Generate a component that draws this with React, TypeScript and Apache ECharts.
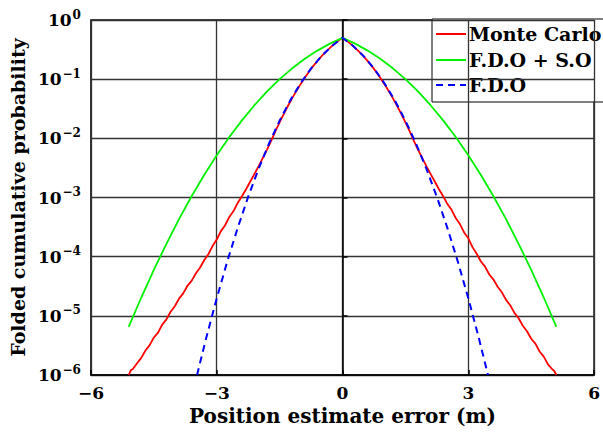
import React, { useEffect, useRef } from "react";
import * as echarts from "echarts";

// Monte Carlo: offsets |x| and probabilities on each side
const mcOffsets = [
  0, 0.1, 0.2, 0.3, 0.4, 0.5, 0.6, 0.7, 0.8, 0.9, 1.0, 1.1, 1.2, 1.3, 1.4, 1.5, 1.6, 1.7, 1.8, 1.9,
  2.0, 2.1, 2.2, 2.3, 2.4, 2.5, 2.6, 2.7, 2.8, 2.9, 3.0, 3.1, 3.2, 3.3, 3.4, 3.5, 3.6, 3.7, 3.8, 3.9,
  4.0, 4.1, 4.2, 4.3, 4.4, 4.5, 4.6, 4.7, 4.8, 4.9, 5.0, 5.05, 5.1,
];
const mcRight = [
  0.5, 0.445, 0.391, 0.338, 0.289, 0.244, 0.202, 0.166, 0.133, 0.106,
  0.0824, 0.0633, 0.0478, 0.0355, 0.0259, 0.0186, 0.0132, 0.00912, 0.00646, 0.00468,
  0.00339, 0.00251, 0.00186, 0.00138, 0.00105,
  7.8e-4, 6.2e-4, 4.5e-4, 3.55e-4, 2.57e-4, 2.04e-4, 1.45e-4, 1.12e-4, 8.3e-5, 6.8e-5,
  5.0e-5, 4.1e-5, 3.1e-5, 2.5e-5, 1.86e-5, 1.51e-5, 1.12e-5, 9.1e-6, 6.8e-6, 5.5e-6,
  4.1e-6, 3.4e-6, 2.5e-6, 2.04e-6, 1.51e-6, 1.26e-6, 1.17e-6, 1.0e-6,
];
const mcLeft = [
  0.5, 0.445, 0.391, 0.338, 0.289, 0.244, 0.202, 0.166, 0.133, 0.106,
  0.0824, 0.0633, 0.0478, 0.0355, 0.0259, 0.0186, 0.0132, 0.00912, 0.00646, 0.00468,
  0.00339, 0.00251, 0.00186, 0.00138, 0.00105,
  8.1e-4, 5.9e-4, 4.7e-4, 3.4e-4, 2.7e-4, 1.95e-4, 1.51e-4, 1.1e-4, 8.7e-5, 6.5e-5,
  5.2e-5, 3.9e-5, 3.2e-5, 2.4e-5, 1.95e-5, 1.45e-5, 1.17e-5, 8.7e-6, 7.1e-6, 5.2e-6,
  4.3e-6, 3.2e-6, 2.6e-6, 1.95e-6, 1.58e-6, 1.26e-6, 1.2e-6, 1.0e-6,
];

// F.D.O + S.O (symmetric)
const fdosoOffsets = [0, 0.3, 0.6, 0.9, 1.2, 1.5, 1.8, 2.1, 2.4, 2.7, 3.0, 3.3, 3.6, 3.9, 4.2, 4.5, 4.8, 5.1];
const fdosoP = [
  0.5, 0.399, 0.304, 0.221, 0.1525, 0.1, 0.062, 0.0363, 0.0201, 0.0105,
  0.00517, 0.0024, 0.00105, 4.3e-4, 1.65e-4, 6.0e-5, 2.04e-5, 6.5e-6,
];

// F.D.O (symmetric)
const fdoOffsets = [0, 0.25, 0.5, 0.75, 1.0, 1.25, 1.5, 1.75, 2.0, 2.25, 2.5, 2.75, 3.0, 3.25, 3.47];
const fdoP = [
  0.5, 0.366, 0.2467, 0.152, 0.0853, 0.0434, 0.0199, 0.00826, 0.00307, 0.00103,
  3.07e-4, 8.26e-5, 1.98e-5, 4.25e-6, 1.0e-6,
];

const xTicks = [-6, -3, 0, 3, 6];
const seriesNames = ["Monte Carlo", "F.D.O + S.O", "F.D.O"];

const FONT = "DejaVu Serif";
const RED = "#ff0000";
const GREEN = "#00f000";
const BLUE = "#0000ff";
const BLUE_DASH = [7, 5];

function twoSided(offs: number[], left: number[], right: number[]) {
  const out: number[][] = [];
  for (let i = offs.length - 1; i > 0; i--) out.push([-offs[i], left[i]]);
  for (let i = 0; i < offs.length; i++) out.push([offs[i], right[i]]);
  return out;
}

export default function App() {
  const ref = useRef<HTMLDivElement>(null);
  useEffect(() => {
    if (!ref.current) return;
    const chart = echarts.init(ref.current, null, { renderer: "svg" });
    const gridColor = "#333";
    const legendColors = [RED, GREEN, BLUE];
    const legendRowY = [34, 60, 85];
    const legendChildren: any[] = [
      {
        type: "rect",
        shape: { x: 432, y: 19, width: 200, height: 83 },
        style: { fill: "#fff", stroke: "#000", lineWidth: 1 },
      },
    ];
    seriesNames.forEach((name, i) => {
      legendChildren.push({
        type: "line",
        shape: { x1: 436, y1: legendRowY[i], x2: 466, y2: legendRowY[i] },
        style: {
          stroke: legendColors[i],
          lineWidth: 2,
          lineDash: i === 2 ? BLUE_DASH : null,
        },
      });
      legendChildren.push({
        type: "text",
        x: 469,
        y: legendRowY[i],
        style: {
          text: name,
          fill: "#000",
          font: `bold 19px "${FONT}"`,
          verticalAlign: "middle",
          align: "left",
        },
      });
    });

    chart.setOption({
      animation: false,
      backgroundColor: "#fff",
      grid: {
        left: 87,
        right: 4,
        top: 20,
        bottom: 58,
        show: true,
        borderColor: "#000",
        borderWidth: 1.5,
      },
      graphic: [{ type: "group", z: 100, children: legendChildren }],
      xAxis: {
        type: "value",
        min: -6,
        max: 6,
        interval: 3,
        name: "Position estimate error (m)",
        nameLocation: "middle",
        nameGap: 30,
        nameTextStyle: { fontFamily: FONT, fontWeight: "bold", fontSize: 20, color: "#000" },
        axisLine: { show: true, onZero: false, lineStyle: { color: "#000", width: 1.5 } },
        axisTick: { show: true, inside: true, length: 5, lineStyle: { color: "#000", width: 1.5 } },
        axisLabel: {
          fontFamily: FONT,
          fontWeight: "bold",
          fontSize: 17,
          color: "#000",
          margin: 9,
          formatter: (v: number) => (xTicks.includes(v) ? String(v).replace("-", "\u2212") : ""),
        },
        splitLine: { show: true, lineStyle: { color: gridColor, width: 1.3 } },
      },
      yAxis: {
        type: "log",
        logBase: 10,
        min: 1e-6,
        max: 1,
        name: "Folded cumulative probability",
        nameLocation: "middle",
        nameGap: 58,
        nameTextStyle: { fontFamily: FONT, fontWeight: "bold", fontSize: 19, color: "#000" },
        axisLine: { show: true, lineStyle: { color: "#000", width: 1.5 } },
        axisTick: { show: true, inside: true, length: 5, lineStyle: { color: "#000", width: 1.5 } },
        minorTick: { show: false },
        axisLabel: {
          margin: 10,
          formatter: (v: number) => {
            const e = Math.round(Math.log10(v));
            return `{b|10}{s|${String(e).replace("-", "\u2212")}}`;
          },
          rich: {
            b: { fontFamily: FONT, fontWeight: "bold", fontSize: 17, color: "#000" },
            s: { fontFamily: FONT, fontWeight: "bold", fontSize: 12, color: "#000", padding: [0, 0, 11, 1] },
          },
        },
        splitLine: { show: true, lineStyle: { color: gridColor, width: 1.3 } },
      },
      series: [
        {
          name: seriesNames[0],
          type: "line",
          symbol: "none",
          data: twoSided(mcOffsets, mcLeft, mcRight),
          lineStyle: { color: RED, width: 1.8 },
          itemStyle: { color: RED },
          z: 3,
        },
        {
          name: seriesNames[1],
          type: "line",
          symbol: "none",
          data: twoSided(fdosoOffsets, fdosoP, fdosoP),
          lineStyle: { color: GREEN, width: 1.8 },
          itemStyle: { color: GREEN },
          z: 3,
        },
        {
          name: seriesNames[2],
          type: "line",
          symbol: "none",
          data: twoSided(fdoOffsets, fdoP, fdoP),
          lineStyle: { color: BLUE, width: 2, type: BLUE_DASH },
          itemStyle: { color: BLUE },
          z: 4,
        },
      ],
    });
    return () => chart.dispose();
  }, []);
  return <div ref={ref} style={{ width: 603, height: 433, position: "absolute", left: 0, top: 0 }} />;
}
